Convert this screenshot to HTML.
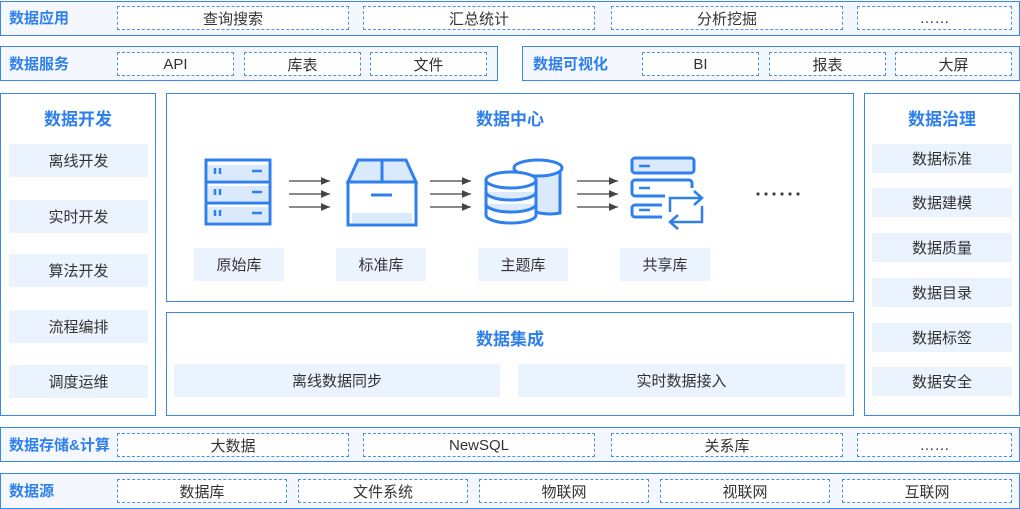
<!DOCTYPE html>
<html><head><meta charset="utf-8"><style>
*{margin:0;padding:0;box-sizing:border-box}
body{width:1020px;height:509px;background:#fff;position:relative;overflow:hidden;font-family:"Liberation Sans","Noto Sans CJK SC",sans-serif;color:#333}
.b{position:absolute;border:1.5px solid #3a87ea}
.bg{background:#f4f8fe}
.t{position:absolute;color:#2f80ec;font-weight:bold;font-size:15px;white-space:nowrap}
.d{position:absolute;border:1px dashed #4a90ea;background:#fff;font-size:15px;display:flex;align-items:center;justify-content:center;color:#333}
.f{position:absolute;background:#ebf3fe;font-size:15px;display:flex;align-items:center;justify-content:center;color:#333}
.h{position:absolute;color:#2f80ec;font-weight:bold;font-size:17px;text-align:center}
</style></head><body>
<!-- row1 -->
<div class="b bg" style="left:0;top:1px;width:1020px;height:35px"></div>
<div class="t" style="left:9px;top:7px">数据应用</div>
<div class="d" style="left:117px;top:6px;width:232px;height:24px">查询搜索</div>
<div class="d" style="left:363px;top:6px;width:232px;height:24px">汇总统计</div>
<div class="d" style="left:611px;top:6px;width:232px;height:24px">分析挖掘</div>
<div class="d" style="left:857px;top:6px;width:155px;height:24px">……</div>
<!-- row2 -->
<div class="b bg" style="left:0;top:46px;width:498px;height:35px"></div>
<div class="t" style="left:9px;top:53px">数据服务</div>
<div class="d" style="left:117px;top:52px;width:117px;height:24px">API</div>
<div class="d" style="left:244px;top:52px;width:117px;height:24px">库表</div>
<div class="d" style="left:370px;top:52px;width:117px;height:24px">文件</div>
<div class="b bg" style="left:522px;top:46px;width:498px;height:35px"></div>
<div class="t" style="left:533px;top:53px">数据可视化</div>
<div class="d" style="left:642px;top:52px;width:117px;height:24px">BI</div>
<div class="d" style="left:769px;top:52px;width:117px;height:24px">报表</div>
<div class="d" style="left:895px;top:52px;width:117px;height:24px">大屏</div>
<!-- left -->
<div class="b" style="left:0;top:93px;width:156px;height:323px"></div>
<div class="h" style="left:0;top:105px;width:156px">数据开发</div>
<div class="f" style="left:9px;top:144px;width:139px;height:33px">离线开发</div>
<div class="f" style="left:9px;top:200px;width:139px;height:33px">实时开发</div>
<div class="f" style="left:9px;top:254px;width:139px;height:33px">算法开发</div>
<div class="f" style="left:9px;top:310px;width:139px;height:33px">流程编排</div>
<div class="f" style="left:9px;top:365px;width:139px;height:33px">调度运维</div>
<!-- right -->
<div class="b" style="left:864px;top:93px;width:156px;height:323px"></div>
<div class="h" style="left:864px;top:105px;width:156px">数据治理</div>
<div class="f" style="left:872px;top:144px;width:140px;height:29px">数据标准</div>
<div class="f" style="left:872px;top:188px;width:140px;height:29px">数据建模</div>
<div class="f" style="left:872px;top:233px;width:140px;height:29px">数据质量</div>
<div class="f" style="left:872px;top:278px;width:140px;height:29px">数据目录</div>
<div class="f" style="left:872px;top:323px;width:140px;height:29px">数据标签</div>
<div class="f" style="left:872px;top:367px;width:140px;height:29px">数据安全</div>
<!-- center -->
<div class="b" style="left:166px;top:93px;width:688px;height:209px"></div>
<div class="h" style="left:166px;top:105px;width:688px">数据中心</div>
<div class="f" style="left:194px;top:248px;width:90px;height:33px">原始库</div>
<div class="f" style="left:336px;top:248px;width:90px;height:33px">标准库</div>
<div class="f" style="left:478px;top:248px;width:90px;height:33px">主题库</div>
<div class="f" style="left:620px;top:248px;width:90px;height:33px">共享库</div>
<svg style="position:absolute;left:0;top:0" width="1020" height="509">
<defs><marker id="a" markerWidth="8" markerHeight="8" refX="7" refY="4" orient="auto"><path d="M0,1 L7,4 L0,7 z" fill="#444"/></marker></defs>
<g stroke="#444" stroke-width="1.3" marker-end="url(#a)">
<line x1="289" y1="181" x2="330" y2="181"/><line x1="289" y1="194" x2="330" y2="194"/><line x1="289" y1="207" x2="330" y2="207"/>
<line x1="430" y1="181" x2="471" y2="181"/><line x1="430" y1="194" x2="471" y2="194"/><line x1="430" y1="207" x2="471" y2="207"/>
<line x1="577" y1="181" x2="618" y2="181"/><line x1="577" y1="194" x2="618" y2="194"/><line x1="577" y1="207" x2="618" y2="207"/>
</g>
<g fill="#dbe9fc"><rect x="208" y="165" width="60" height="15"/><rect x="208" y="186" width="60" height="15"/><rect x="208" y="207" width="60" height="15"/></g>
<g fill="none" stroke="#2f80ec" stroke-width="3">
<!-- server -->
<rect x="206" y="160" width="64" height="64"/>
<line x1="206" y1="182" x2="270" y2="182"/><line x1="206" y1="203" x2="270" y2="203"/>
<g stroke-width="2.5"><line x1="215" y1="168" x2="215" y2="174"/><line x1="220" y1="168" x2="220" y2="174"/><line x1="252" y1="171" x2="262" y2="171"/>
<line x1="215" y1="189" x2="215" y2="195"/><line x1="220" y1="189" x2="220" y2="195"/><line x1="252" y1="192" x2="262" y2="192"/>
<line x1="215" y1="210" x2="215" y2="216"/><line x1="220" y1="210" x2="220" y2="216"/><line x1="252" y1="213" x2="262" y2="213"/></g>
<!-- box -->
<path d="M348,182 L358,160 L406,160 L416,182 Z" fill="#dbe9fc"/>
<line x1="382" y1="160" x2="382" y2="182"/>
<rect x="348" y="182" width="68" height="43" fill="#fff"/>
<rect x="352" y="213" width="60" height="10" fill="#dbe9fc" stroke="none"/>
<line x1="371" y1="195" x2="392" y2="195"/>
<!-- db -->
<g fill="#dbe9fc">
<path d="M532,168 v42 a20,7 0 0 0 28,3 v-42"/>
<ellipse cx="538" cy="168" rx="24" ry="8" fill="#fff"/>
<path d="M486,180 v35 a25,8 0 0 0 50,0 v-35" fill="#fff"/>
<ellipse cx="511" cy="180" rx="25" ry="8" fill="#fff"/>
<path d="M486,192 a25,8 0 0 0 50,0"/><path d="M486,204 a25,8 0 0 0 50,0"/>
</g>
<!-- share -->
<rect x="632" y="158" width="62" height="15" rx="3" fill="#dbe9fc"/>
<path d="M692,188 v-5 a3,3 0 0 0 -3,-3 h-54 a3,3 0 0 0 -3,3 v10 a3,3 0 0 0 3,3 h30" fill="none"/>
<path d="M662,205 h-27 a3,3 0 0 0 -3,3 v6 a3,3 0 0 0 3,3 h27"/>
<g stroke-width="2.5"><line x1="639" y1="166" x2="650" y2="166"/><line x1="639" y1="188" x2="650" y2="188"/><line x1="639" y1="210" x2="650" y2="210"/></g>
<path d="M670,212 v-14 h32 M694,191 l8,7 l-8,7" stroke-width="2.5"/>
<path d="M702,206 v16 h-32 M678,215 l-8,7 l8,7" stroke-width="2.5"/>
</g>
<g fill="#444"><circle cx="758" cy="194" r="1.6"/><circle cx="766" cy="194" r="1.6"/><circle cx="774" cy="194" r="1.6"/><circle cx="782" cy="194" r="1.6"/><circle cx="790" cy="194" r="1.6"/><circle cx="798" cy="194" r="1.6"/></g>
</svg>
<div class="b" style="left:166px;top:312px;width:688px;height:104px"></div>
<div class="h" style="left:166px;top:325px;width:688px">数据集成</div>
<div class="f" style="left:174px;top:364px;width:326px;height:33px">离线数据同步</div>
<div class="f" style="left:518px;top:364px;width:327px;height:33px">实时数据接入</div>
<!-- storage -->
<div class="b bg" style="left:0;top:427px;width:1020px;height:35px"></div>
<div class="t" style="left:9px;top:434px">数据存储&amp;计算</div>
<div class="d" style="left:117px;top:433px;width:232px;height:24px">大数据</div>
<div class="d" style="left:363px;top:433px;width:232px;height:24px">NewSQL</div>
<div class="d" style="left:611px;top:433px;width:232px;height:24px">关系库</div>
<div class="d" style="left:857px;top:433px;width:155px;height:24px">……</div>
<!-- source -->
<div class="b bg" style="left:0;top:473px;width:1020px;height:36px"></div>
<div class="t" style="left:9px;top:480px">数据源</div>
<div class="d" style="left:117px;top:479px;width:170px;height:24px">数据库</div>
<div class="d" style="left:298px;top:479px;width:170px;height:24px">文件系统</div>
<div class="d" style="left:479px;top:479px;width:170px;height:24px">物联网</div>
<div class="d" style="left:660px;top:479px;width:170px;height:24px">视联网</div>
<div class="d" style="left:842px;top:479px;width:170px;height:24px">互联网</div>
</body></html>
